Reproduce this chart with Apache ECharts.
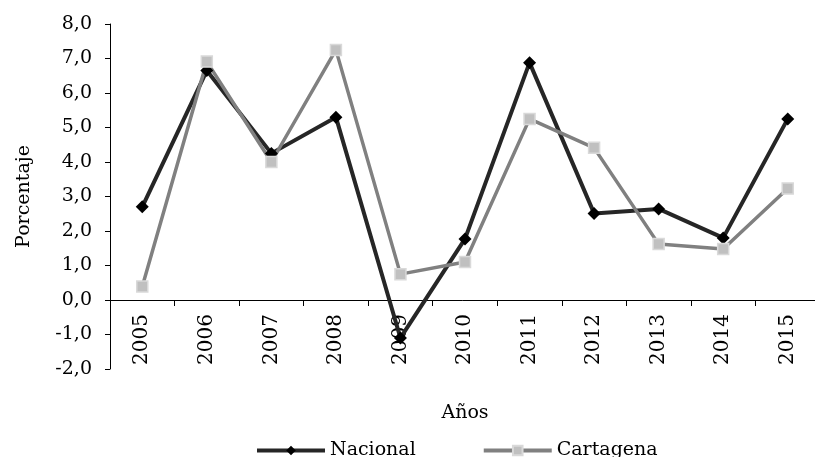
<!DOCTYPE html>
<html>
<head>
<meta charset="utf-8">
<script src="https://cdn.jsdelivr.net/npm/echarts@6/dist/echarts.min.js"></script>
<style>
  html, body { margin: 0; padding: 0; background: #fff; }
  #chart { width: 815px; height: 457px; }
</style>
</head>
<body>
<div id="chart"></div>
<script>
// datos
var years = ["2005", "2006", "2007", "2008", "2009", "2010", "2011", "2012", "2013", "2014", "2015"];
var nacional = [2.7, 6.65, 4.25, 5.3, -1.1, 1.77, 6.88, 2.51, 2.64, 1.8, 5.25];
var cartagena = [0.39, 6.91, 4.0, 7.25, 0.75, 1.1, 5.25, 4.41, 1.62, 1.48, 3.23];
var yTicks = [-2, -1, 0, 1, 2, 3, 4, 5, 6, 7, 8];

var font = "DejaVu Serif";
var gridTop = 24, gridBottom = 88, chartH = 457;
var plotH = chartH - gridTop - gridBottom;
var yMin = yTicks[0], yMax = yTicks[yTicks.length - 1];
// subir el eje x hasta el cero
var zeroShift = plotH * (0 - yMin) / (yMax - yMin);

var chart = echarts.init(document.getElementById("chart"));

var option = {
  backgroundColor: "#ffffff",
  animation: false,
  grid: {
    left: 110,
    right: -5,
    top: gridTop,
    bottom: gridBottom,
    outerBoundsMode: "none",
    containLabel: false
  },
  legend: {
    top: 436,
    left: 250,
    itemWidth: 68,
    itemHeight: 12,
    itemGap: 66,
    lineStyle: { width: 4 },
    textStyle: {
      fontFamily: font,
      fontSize: 19,
      color: "#000"
    },
    data: ["Nacional", "Cartagena"]
  },
  xAxis: {
    type: "category",
    data: years,
    boundaryGap: true,
    position: "bottom",
    offset: -zeroShift,
    name: "Años",
    nameLocation: "middle",
    nameGap: 104,
    nameTextStyle: {
      fontFamily: font,
      fontSize: 19,
      color: "#000"
    },
    axisLine: {
      onZero: false,
      lineStyle: { color: "#000", width: 1 }
    },
    axisTick: {
      show: true,
      length: 6,
      lineStyle: { color: "#000" }
    },
    axisLabel: {
      rotate: 90,
      margin: 14,
      fontFamily: font,
      fontSize: 20,
      color: "#000"
    },
    splitLine: { show: false }
  },
  yAxis: {
    type: "value",
    min: yMin,
    max: yMax,
    interval: 1,
    name: "Porcentaje",
    nameLocation: "middle",
    nameGap: 76,
    nameTextStyle: {
      fontFamily: font,
      fontSize: 19,
      color: "#000"
    },
    axisLine: {
      show: true,
      lineStyle: { color: "#000", width: 1 }
    },
    axisTick: {
      show: true,
      length: 5,
      lineStyle: { color: "#000" }
    },
    axisLabel: {
      margin: 18,
      fontFamily: font,
      fontSize: 19,
      color: "#000",
      formatter: function (v) {
        return v.toFixed(1).replace(".", ",");
      }
    },
    splitLine: { show: false }
  },
  series: [
    {
      name: "Nacional",
      type: "line",
      data: nacional,
      symbol: "diamond",
      symbolSize: 13,
      lineStyle: { color: "#262626", width: 4 },
      itemStyle: { color: "#000000", borderWidth: 0 }
    },
    {
      name: "Cartagena",
      type: "line",
      data: cartagena,
      symbol: "rect",
      symbolSize: 11,
      lineStyle: { color: "#808080", width: 3.5 },
      itemStyle: { color: "#c0c0c0", borderColor: "#d9d9d9", borderWidth: 1.5 }
    }
  ]
};

chart.setOption(option);
</script>
</body>
</html>
